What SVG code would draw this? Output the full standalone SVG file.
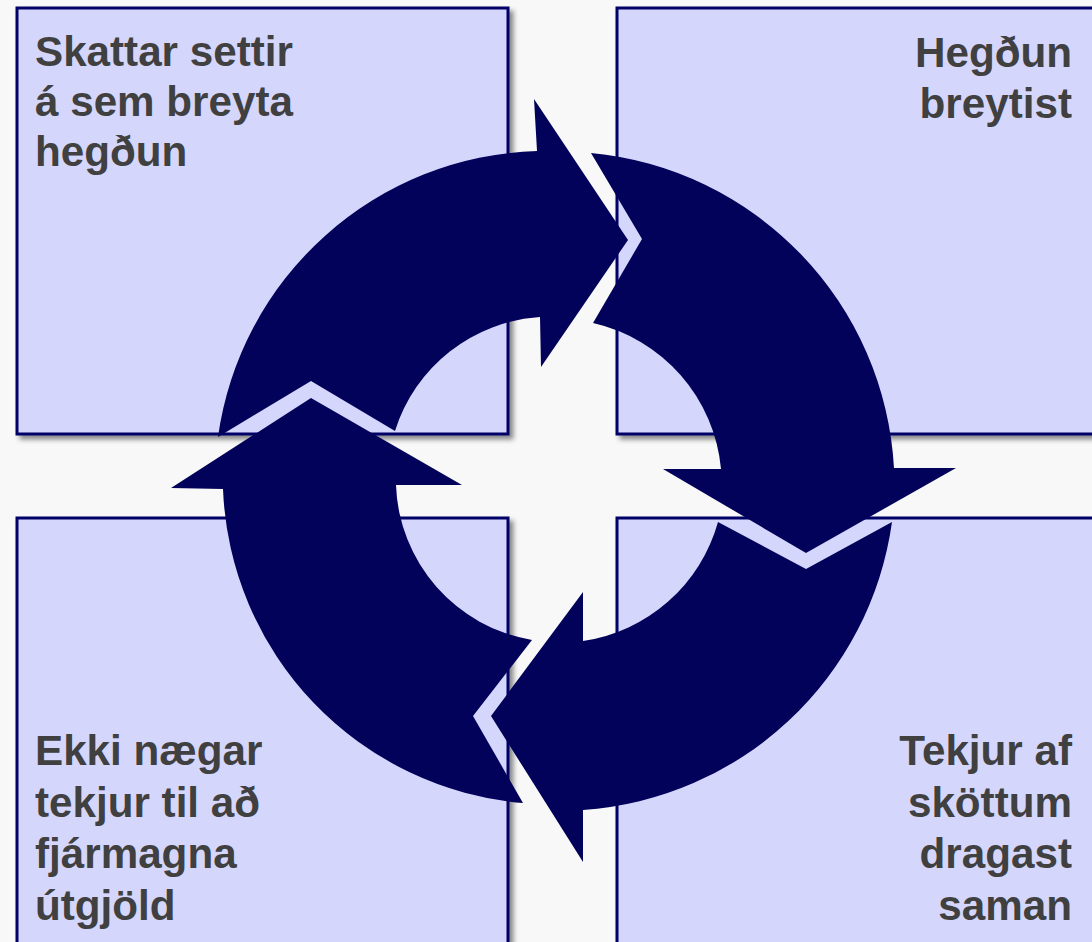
<svg xmlns="http://www.w3.org/2000/svg" width="1092" height="942" viewBox="0 0 1092 942">
  <defs>
    <filter id="sh" x="-5%" y="-5%" width="115%" height="115%">
      <feDropShadow dx="4" dy="4" stdDeviation="2.5" flood-color="#000000" flood-opacity="0.45"/>
    </filter>
    <style>
      .box { fill: #d5d6fc; stroke: #000066; stroke-width: 3; filter: url(#sh); }
      .lbl { font-family: "Liberation Sans", Arial, sans-serif; font-weight: bold; font-size: 42.2px; fill: #404040; }
      .r { text-anchor: end; }
      .arr { fill: #02025a; }
    </style>
  </defs>
  <rect width="1092" height="942" fill="#f8f8f8"/>

  <g id="node-tl">
    <rect class="box" x="17" y="8" width="491" height="426"/>
    <text class="lbl" x="35" y="66">Skattar settir</text>
    <text class="lbl" x="35" y="116">á sem breyta</text>
    <text class="lbl" x="35" y="166">hegðun</text>
  </g>
  <g id="node-tr">
    <rect class="box" x="617" y="8" width="490" height="426"/>
    <text class="lbl r" x="1072" y="67">Hegðun</text>
    <text class="lbl r" x="1072" y="118">breytist</text>
  </g>
  <g id="node-bl">
    <rect class="box" x="17" y="518" width="491" height="440"/>
    <text class="lbl" x="35" y="765">Ekki nægar</text>
    <text class="lbl" x="35" y="817">tekjur til að</text>
    <text class="lbl" x="35" y="868">fjármagna</text>
    <text class="lbl" x="35" y="920">útgjöld</text>
  </g>
  <g id="node-br">
    <rect class="box" x="617" y="518" width="490" height="440"/>
    <text class="lbl r" x="1072" y="765">Tekjur af</text>
    <text class="lbl r" x="1072" y="817">sköttum</text>
    <text class="lbl r" x="1072" y="868">dragast</text>
    <text class="lbl r" x="1072" y="920">saman</text>
  </g>

  <g id="connectors">
    <path class="arr" d="M 218 437 A 332 332 0 0 1 537 151 L 534 99 L 628 240 L 541 367 L 540 317 A 163 163 0 0 0 395 431 L 311 381 Z"/>
    <path class="arr" d="M 591 153 A 335 335 0 0 1 894 468 L 956 468 L 806 553 L 663 469 L 721 469 A 165 165 0 0 0 593 323 L 642 239 Z"/>
    <path class="arr" d="M 892 522 A 335 335 0 0 1 583 810 L 583 862 L 491 716 L 583 592 L 583 641 A 165 165 0 0 0 718 522 L 806 569 Z"/>
    <path class="arr" d="M 523 803 A 328 328 0 0 1 223 489 L 171 488 L 311 398 L 462 485 L 396 485 A 163 163 0 0 0 532 640 L 473 716 Z"/>
  </g>
</svg>
